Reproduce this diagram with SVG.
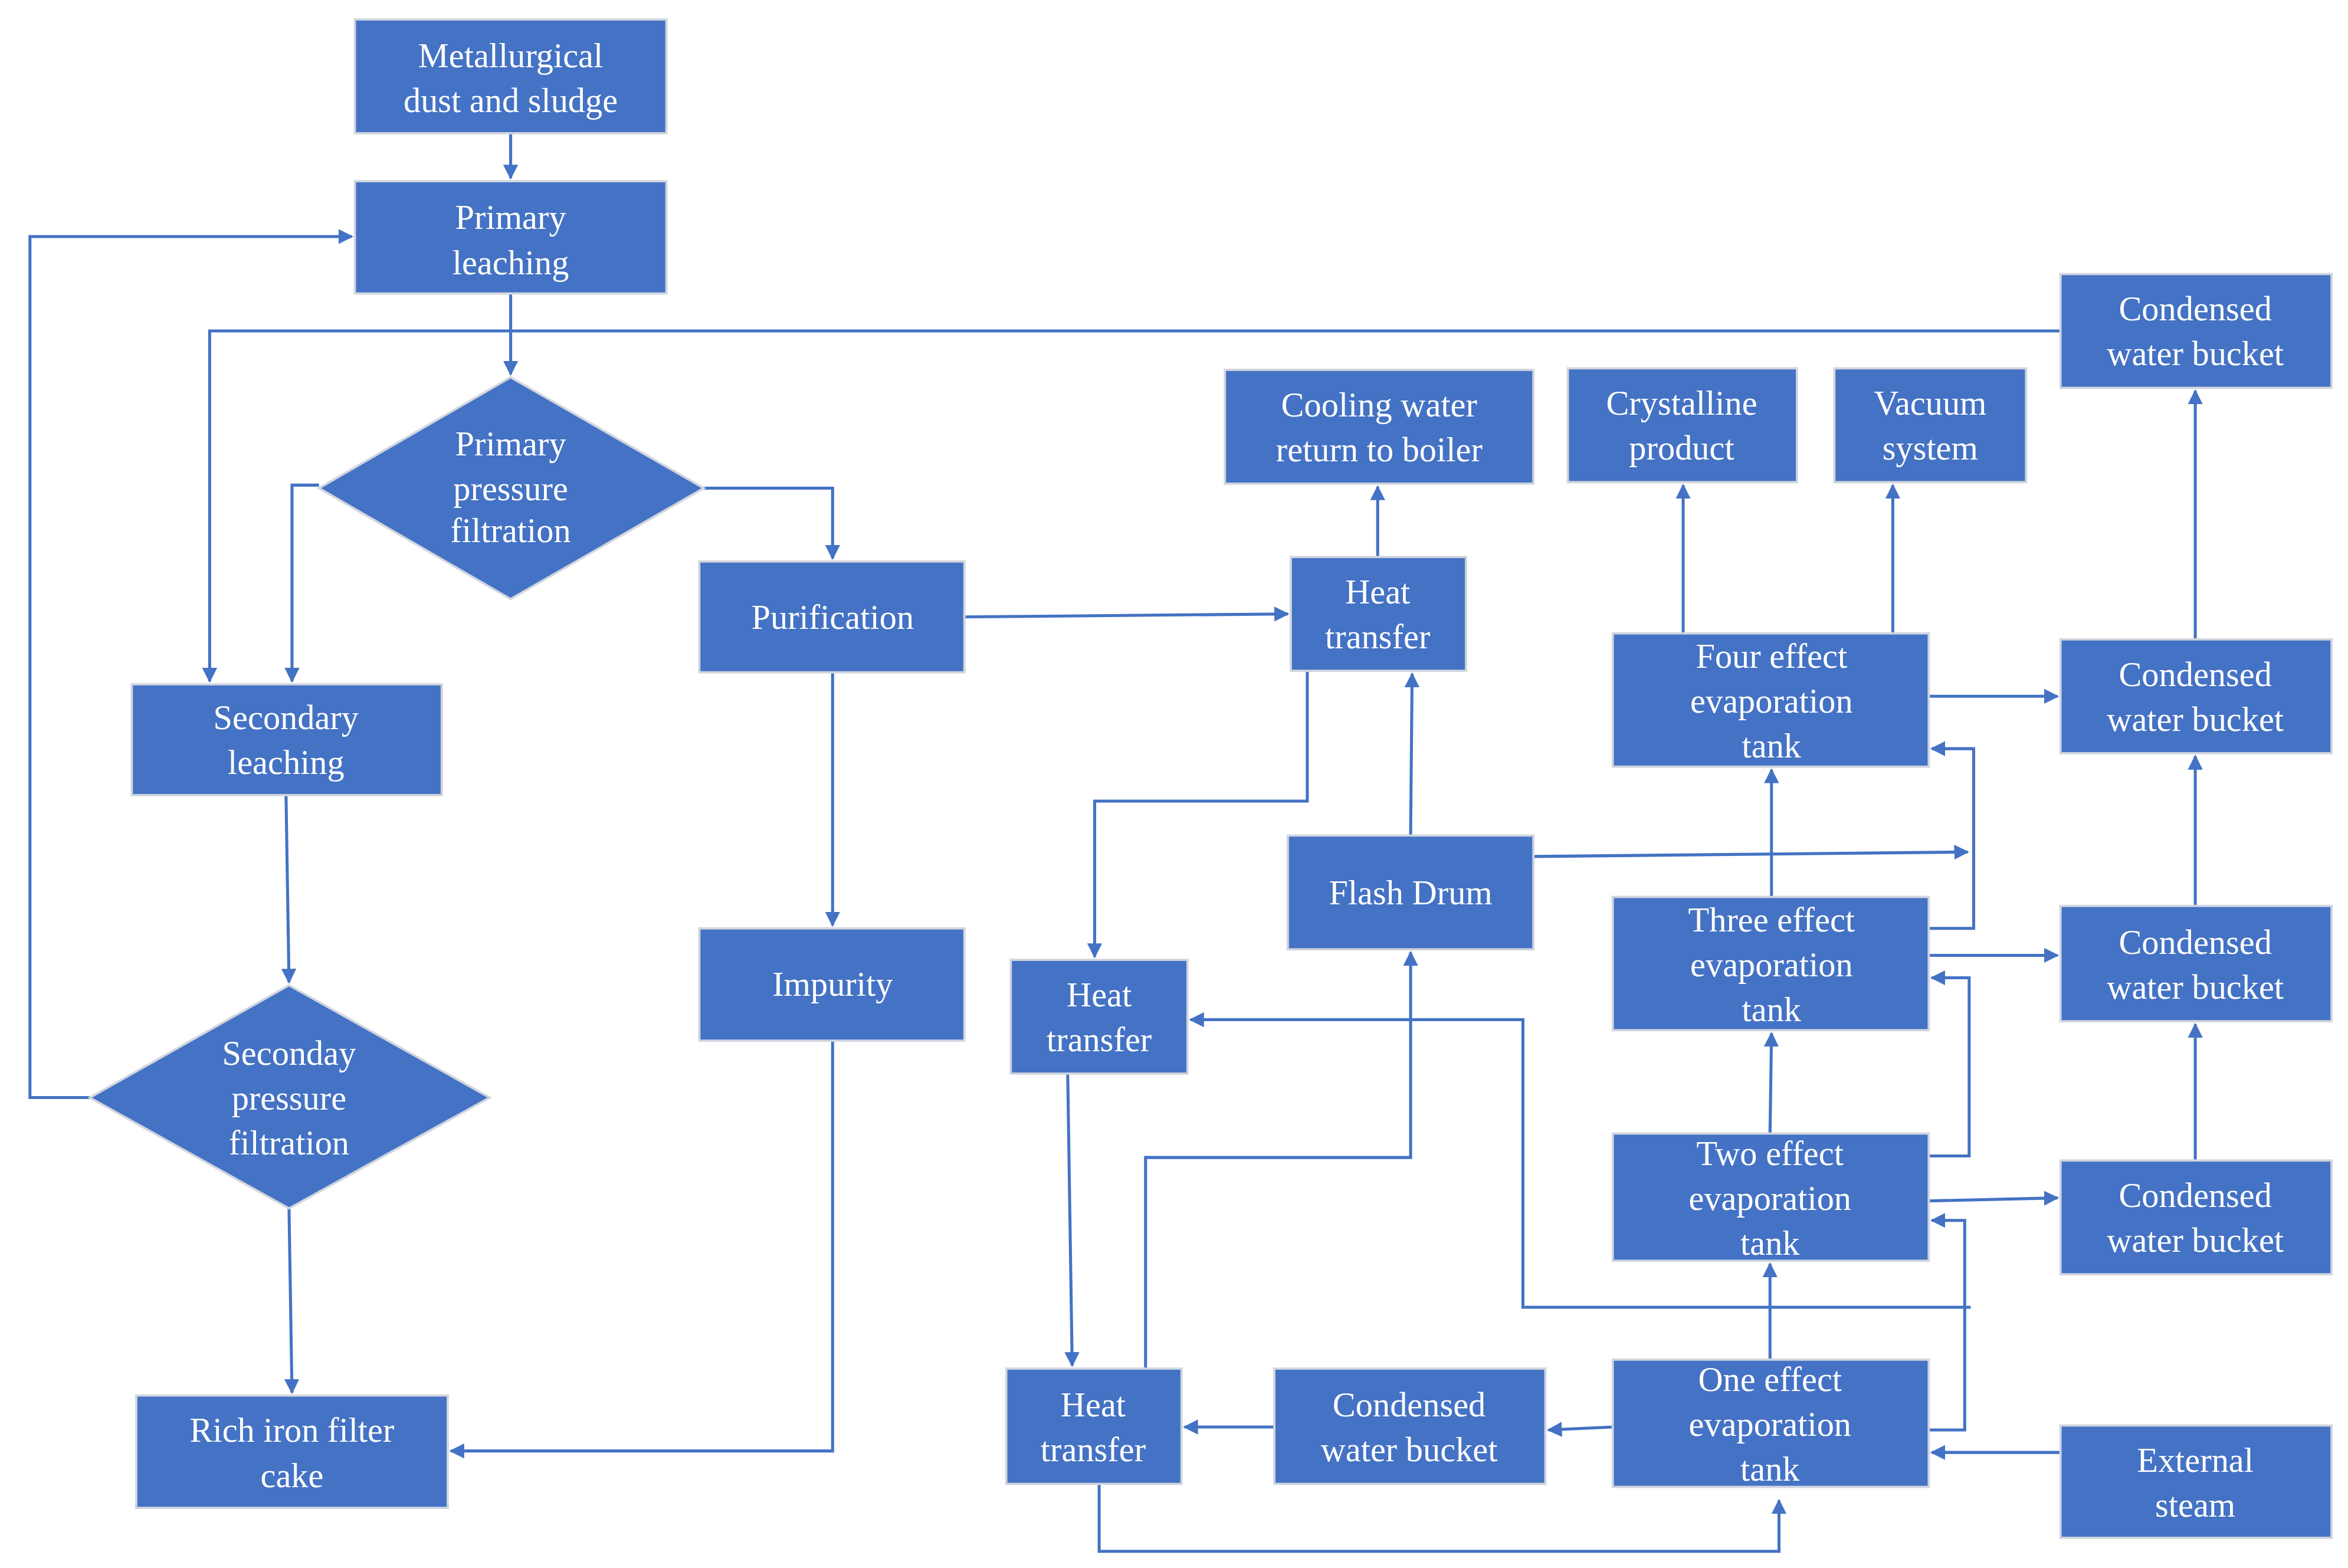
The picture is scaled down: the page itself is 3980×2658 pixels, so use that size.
<svg xmlns="http://www.w3.org/2000/svg" width="3980" height="2658" viewBox="0 0 3980 2658">
<style>
.n{fill:#4472C4;stroke:#D0D5DE;stroke-width:1.5}
.t{fill:#fff;font-family:"Liberation Serif",serif;font-size:23px;text-anchor:middle}
.c{fill:none;stroke:#4472C4;stroke-width:2;marker-end:url(#a)}
</style>
<defs><marker id="a" viewBox="0 0 10 10" refX="9" refY="5" markerWidth="5" markerHeight="5" orient="auto"><path d="M0,0L10,5L0,10z" fill="#4472C4"/></marker></defs>
<rect width="3980" height="2658" fill="#fff"/>
<g transform="scale(2.5383)">
<g id="connectors">
<path class="c" d="M341,89V119"/>
<path class="c" d="M341,196V250"/>
<path class="c" d="M1376,221H140V455"/>
<path class="c" d="M213,324H195V455"/>
<path class="c" d="M470,326H556V373"/>
<path class="c" d="M191,531L193,656"/>
<path class="c" d="M60,733H20V158H235"/>
<path class="c" d="M193,807L195,930"/>
<path class="c" d="M556,449V618"/>
<path class="c" d="M556,695V969H301"/>
<path class="c" d="M644,412L860,410"/>
<path class="c" d="M920,372V325"/>
<path class="c" d="M873,448V535H731V639"/>
<path class="c" d="M942,558L943,450"/>
<path class="c" d="M1024,572L1314,569"/>
<path class="c" d="M1288,620H1318V500H1290"/>
<path class="c" d="M1288,772H1315V653H1290"/>
<path class="c" d="M1288,955H1312V815H1290"/>
<path class="c" d="M713,717L716,912"/>
<path class="c" d="M765,914V773H942V636"/>
<path class="c" d="M1316,873H1017V681H795"/>
<path class="c" d="M851,953H791"/>
<path class="c" d="M1077,953L1034,955"/>
<path class="c" d="M734,991V1036H1188V1002"/>
<path class="c" d="M1376,970H1290"/>
<path class="c" d="M1182,908V844"/>
<path class="c" d="M1182,757L1183,690"/>
<path class="c" d="M1183,599V514"/>
<path class="c" d="M1124,423V324"/>
<path class="c" d="M1264,423V324"/>
<path class="c" d="M1288,465H1374"/>
<path class="c" d="M1288,638H1374"/>
<path class="c" d="M1288,802L1374,800"/>
<path class="c" d="M1466,775V684"/>
<path class="c" d="M1466,605V505"/>
<path class="c" d="M1466,427V261"/>
</g>
<g id="n1"><rect class="n" x="237" y="13" width="208" height="76"/><text class="t" x="341" y="45">Metallurgical</text><text class="t" x="341" y="75">dust and sludge</text></g>
<g id="n2"><rect class="n" x="237" y="121" width="208" height="75"/><text class="t" x="341" y="153">Primary</text><text class="t" x="341" y="183">leaching</text></g>
<g id="n3"><polygon class="n" points="341,252 470,326 341,400 213,326"/><text class="t" x="341" y="304">Primary</text><text class="t" x="341" y="334">pressure</text><text class="t" x="341" y="362">filtration</text></g>
<g id="n4"><rect class="n" x="467" y="375" width="177" height="74"/><text class="t" x="556" y="420">Purification</text></g>
<g id="n5"><rect class="n" x="88" y="457" width="207" height="74"/><text class="t" x="191" y="487">Secondary</text><text class="t" x="191" y="517">leaching</text></g>
<g id="n6"><polygon class="n" points="193,658 327,733 193,807 60,733"/><text class="t" x="193" y="711">Seconday</text><text class="t" x="193" y="741">pressure</text><text class="t" x="193" y="771">filtration</text></g>
<g id="n7"><rect class="n" x="467" y="620" width="177" height="75"/><text class="t" x="556" y="665">Impurity</text></g>
<g id="n8"><rect class="n" x="91" y="932" width="208" height="75"/><text class="t" x="195" y="963">Rich iron filter</text><text class="t" x="195" y="993">cake</text></g>
<g id="n9"><rect class="n" x="818" y="247" width="206" height="76"/><text class="t" x="921" y="278">Cooling water</text><text class="t" x="921" y="308">return to boiler</text></g>
<g id="n10"><rect class="n" x="862" y="372" width="117" height="76"/><text class="t" x="920" y="403">Heat</text><text class="t" x="920" y="433">transfer</text></g>
<g id="n11"><rect class="n" x="860" y="558" width="164" height="76"/><text class="t" x="942" y="604">Flash Drum</text></g>
<g id="n12"><rect class="n" x="675" y="641" width="118" height="76"/><text class="t" x="734" y="672">Heat</text><text class="t" x="734" y="702">transfer</text></g>
<g id="n13"><rect class="n" x="672" y="914" width="117" height="77"/><text class="t" x="730" y="946">Heat</text><text class="t" x="730" y="976">transfer</text></g>
<g id="n14"><rect class="n" x="851" y="914" width="181" height="77"/><text class="t" x="941" y="946">Condensed</text><text class="t" x="941" y="976">water bucket</text></g>
<g id="n15"><rect class="n" x="1047" y="246" width="153" height="76"/><text class="t" x="1123" y="277">Crystalline</text><text class="t" x="1123" y="307">product</text></g>
<g id="n16"><rect class="n" x="1225" y="246" width="128" height="76"/><text class="t" x="1289" y="277">Vacuum</text><text class="t" x="1289" y="307">system</text></g>
<g id="n17"><rect class="n" x="1077" y="423" width="211" height="89"/><text class="t" x="1183" y="446">Four effect</text><text class="t" x="1183" y="476">evaporation</text><text class="t" x="1183" y="506">tank</text></g>
<g id="n18"><rect class="n" x="1077" y="599" width="211" height="89"/><text class="t" x="1183" y="622">Three effect</text><text class="t" x="1183" y="652">evaporation</text><text class="t" x="1183" y="682">tank</text></g>
<g id="n19"><rect class="n" x="1077" y="757" width="211" height="85"/><text class="t" x="1182" y="778">Two effect</text><text class="t" x="1182" y="808">evaporation</text><text class="t" x="1182" y="838">tank</text></g>
<g id="n20"><rect class="n" x="1077" y="908" width="211" height="85"/><text class="t" x="1182" y="929">One effect</text><text class="t" x="1182" y="959">evaporation</text><text class="t" x="1182" y="989">tank</text></g>
<g id="n21"><rect class="n" x="1376" y="183" width="181" height="76"/><text class="t" x="1466" y="214">Condensed</text><text class="t" x="1466" y="244">water bucket</text></g>
<g id="n22"><rect class="n" x="1376" y="427" width="181" height="76"/><text class="t" x="1466" y="458">Condensed</text><text class="t" x="1466" y="488">water bucket</text></g>
<g id="n23"><rect class="n" x="1376" y="605" width="181" height="77"/><text class="t" x="1466" y="637">Condensed</text><text class="t" x="1466" y="667">water bucket</text></g>
<g id="n24"><rect class="n" x="1376" y="775" width="181" height="76"/><text class="t" x="1466" y="806">Condensed</text><text class="t" x="1466" y="836">water bucket</text></g>
<g id="n25"><rect class="n" x="1376" y="952" width="181" height="75"/><text class="t" x="1466" y="983">External</text><text class="t" x="1466" y="1013">steam</text></g>
</g>
</svg>
